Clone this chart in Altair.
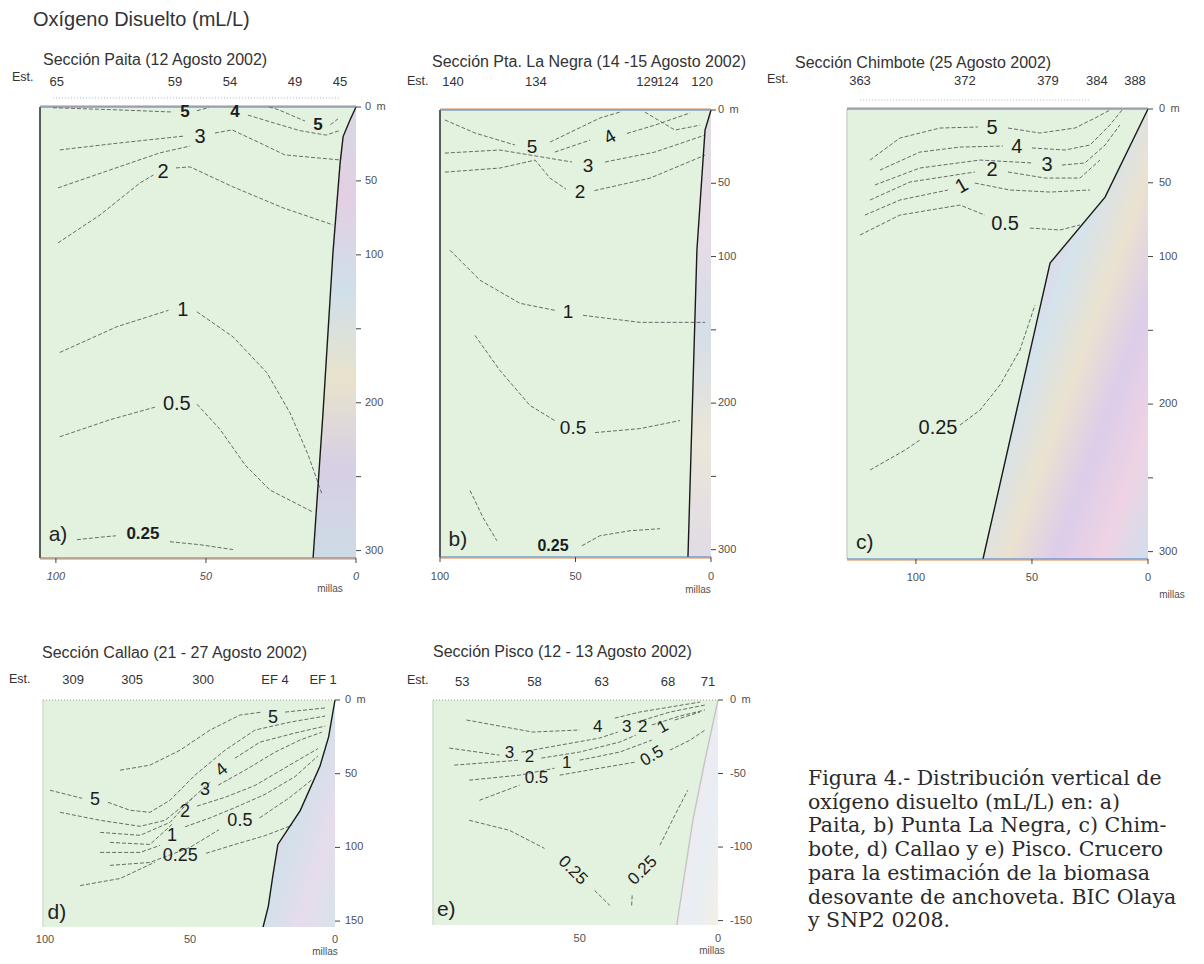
import altair as alt
import pandas as pd

# ------------------------------------------------------------------ texts
MAIN_TITLE = "Oxígeno Disuelto (mL/L)"
TITLE_A = "Sección Paita (12 Agosto 2002)"
TITLE_B = "Sección Pta. La Negra (14 -15 Agosto 2002)"
TITLE_C = "Sección Chimbote (25 Agosto  2002)"
TITLE_D = "Sección Callao (21 - 27 Agosto 2002)"
TITLE_E = "Sección Pisco  (12 - 13 Agosto 2002)"
CAPTION_LINES = [
    "Figura 4.- Distribución vertical de",
    "oxígeno disuelto (mL/L) en:  a)",
    "Paita, b) Punta La Negra, c) Chim-",
    "bote, d) Callao  y  e) Pisco. Crucero",
    "para la estimación de la biomasa",
    "desovante de anchoveta. BIC Olaya",
    "y SNP2 0208.",
]

# ------------------------------------------------------------------ stations (miles)
A_STATIONS = ["65", "59", "54", "49", "45"]
A_STATION_MI = [99.7, 60.3, 42.0, 20.3, 5.3]
B_STATIONS = ["140", "134", "129", "124", "120"]
B_STATION_MI = [95.2, 64.6, 23.6, 15.9, 3.3]
C_STATIONS = ["363", "372", "379", "384", "388"]
C_STATION_MI = [124.1, 78.9, 43.1, 22.0, 5.6]
D_STATIONS = ["309", "305", "300", "EF 4", "EF 1"]
D_STATION_MI = [90.3, 70.0, 45.5, 20.7, 4.1]
E_STATIONS = ["53", "58", "63", "68", "71"]
E_STATION_MI = [92.4, 66.3, 42.0, 18.1, 3.6]

# ------------------------------------------------------------------ axes
DEPTH_TICKS_300 = [0, 50, 100, 150, 200, 250, 300]
DEPTH_LABELS_300 = ["0\u2002m", "50", "100", "", "200", "", "300"]
DEPTH_TICKS_150 = [0, 50, 100, 150]
DEPTH_LABELS_D = ["0\u2002m", "50", "100", "150"]
DEPTH_LABELS_E = ["0\u2002m", "-50", "-100", "-150"]
MILES_ABCD = [100, 50, 0]
MILES_E = [50, 0]

# ------------------------------------------------------------------ bottom profile (miles, m)
A_SHELF = [(0, 0), (2.0, 8.8), (4.3, 20), (5.3, 38), (7.7, 99), (11.0, 207), (14.3, 305)]
B_SHELF = [(0, 0), (2.2, 13.7), (5.2, 95.7), (8.5, 305)]
C_SHELF = [(0, 0), (18.5, 59.7), (42.2, 104.4), (71.1, 305)]
D_SHELF = [(0, 0), (2.2, 25), (5.2, 45), (12.0, 75), (19.7, 98), (21.5, 120), (23.0, 140), (24.8, 154)]
E_SHELF = [(0, 0), (4.7, 40.9), (9.1, 81.8), (14.9, 153)]

# ------------------------------------------------------------------ isolines (miles, m)
A_LINES = [
    [(101.0, 0.5), (78.7, 2.0), (61.0, 3.4)],
    [(53.0, 2.5), (49.0, 0.3)],
    [(36.0, 5.5), (27.0, 11.0), (18.7, 16.0), (10.0, 19.0), (5.5, 16.0)],
    [(29.0, 0.0), (26.0, 1.7), (17.0, 9.5)],
    [(8.5, 12.0), (6.0, 8.0)],
    [(98.7, 29.0), (78.7, 24.3), (57.0, 19.6)],
    [(47.0, 17.6), (41.3, 15.5), (32.0, 24.3), (23.7, 32.4), (5.3, 35.8)],
    [(99.3, 54.7), (82.0, 42.6), (65.3, 31.0), (55.3, 26.4)],
    [(99.3, 91.9), (85.3, 73.0), (72.0, 51.4), (67.5, 46.0)],
    [(60.0, 41.2), (55.3, 40.5), (41.0, 54.0), (24.3, 68.2), (7.7, 79.7)],
    [(98.7, 166.0), (79.7, 148.6), (62.5, 137.5)],
    [(53.0, 138.5), (41.0, 155.4), (29.7, 179.7), (22.0, 206.8), (16.0, 235.0), (11.3, 262.0)],
    [(98.7, 223.0), (82.0, 211.5), (67.0, 203.0)],
    [(53.0, 201.0), (45.3, 218.0), (37.0, 242.0), (28.7, 259.0), (14.3, 274.0)],
    [(93.0, 292.6), (83.0, 290.5), (80.0, 290.0)],
    [(62.0, 294.0), (52.0, 296.0), (41.0, 299.3)],
]
A_LABELS = [("3", 52.0, 20.3, 0), ("2", 64.3, 44.0, 0), ("1", 57.7, 137.0, 0), ("0.5", 59.7, 201.0, 0)]
A_BOLD = [("5", 57.0, 3.4, 0), ("4", 40.3, 3.4, 0), ("5", 12.7, 12.5, 0), ("0.25", 71.0, 289.0, 0)]
A_LETTER = ("a)", 99.3, 289.4)

B_LINES = [
    [(98.2, 6.8), (87.1, 15.7), (72.3, 23.9)],
    [(59.4, 21.9), (50.2, 13.7), (41.0, 5.5), (33.6, 1.4)],
    [(57.6, 28.7), (44.6, 20.5)],
    [(31.0, 16.0), (20.7, 10.3), (7.7, 2.0)],
    [(24.4, 1.4), (13.3, 13.7), (4.0, 10.3)],
    [(98.2, 29.4), (77.9, 27.3), (51.3, 35.5)],
    [(39.1, 35.5), (20.7, 28.7), (2.2, 17.1)],
    [(98.2, 42.4), (77.9, 39.6), (64.9, 34.2), (59.4, 46.5), (53.5, 54.0)],
    [(43.0, 55.0), (22.5, 46.5), (2.2, 30.8)],
    [(96.3, 95.7), (85.2, 116.2), (70.5, 131.9), (57.6, 136.7)],
    [(47.2, 140.1), (26.2, 144.9), (2.2, 144.9)],
    [(87.1, 153.8), (77.9, 177.7), (66.8, 201.6), (57.6, 212.0)],
    [(42.8, 220.1), (26.2, 217.4), (11.4, 211.9)],
    [(88.9, 259.7), (84.1, 278.2), (79.0, 293.9)],
    [(47.6, 297.3), (41.0, 290.5), (29.9, 287.1), (18.8, 285.7)],
]
B_LABELS = [("5", 66.0, 25.3, 0), ("4", 37.3, 18.5, 330), ("3", 45.4, 38.3, 0), ("2", 48.3, 56.0, 0),
            ("1", 52.8, 138.0, 0), ("0.5", 50.9, 216.7, 0)]
B_BOLD = [("0.25", 58.3, 297.3, 0)]
B_LETTER = ("b)", 93.4, 293.3)

C_LINES = [
    [(119.8, 34.6), (106.9, 19.7), (89.7, 12.9), (73.3, 12.2)],
    [(60.3, 12.9), (46.6, 16.3), (31.5, 12.9), (22.8, 6.1), (16.4, 0.7)],
    [(115.5, 41.4), (98.3, 29.2), (81.0, 25.8), (62.5, 25.1)],
    [(50.0, 26.4), (35.8, 27.8), (25.0, 24.4), (16.4, 10.8), (11.2, 0.7)],
    [(117.7, 51.5), (98.3, 40.0), (72.4, 34.6), (49.6, 36.6)],
    [(37.1, 38.0), (27.2, 36.6), (18.5, 24.4), (12.1, 10.8)],
    [(119.8, 61.7), (102.6, 49.5), (74.6, 42.7)],
    [(60.3, 42.7), (44.4, 46.8), (29.3, 46.8), (20.7, 34.6)],
    [(122.0, 71.9), (106.9, 61.7), (86.2, 54.9)],
    [(74.6, 50.2), (59.5, 54.9), (42.2, 56.3), (25.0, 54.9)],
    [(124.1, 85.4), (106.9, 71.9), (81.0, 65.1), (70.3, 71.9)],
    [(50.9, 80.7), (37.9, 82.0), (29.3, 78.6)],
    [(119.8, 244.7), (104.7, 231.2), (98.3, 224.4)],
    [(81.0, 214.2), (72.4, 204.1), (63.8, 187.1), (55.2, 163.4), (48.7, 132.9)],
]
C_LABELS = [("5", 67.2, 12.9, 0), ("4", 56.5, 25.8, 0), ("3", 43.5, 38.0, 0), ("2", 67.2, 41.4, 0),
            ("1", 80.2, 52.2, 330), ("0.5", 61.6, 78.0, 0), ("0.25", 90.5, 216.3, 0)]
C_BOLD = []
C_LETTER = ("c)", 122.0, 294.2)

D_LINES = [
    [(74.1, 47.6), (63.8, 44.2), (53.4, 34.0), (43.1, 20.4), (32.8, 10.2), (25.2, 8.2)],
    [(17.2, 8.2), (3.4, 5.4)],
    [(98.3, 61.2), (87.2, 66.7)],
    [(78.3, 69.4), (70.7, 74.8), (63.8, 76.2), (56.9, 68.0), (48.3, 51.0), (37.9, 34.0), (27.6, 20.4), (15.5, 15.0), (3.4, 10.9)],
    [(94.8, 76.2), (81.0, 81.6), (67.2, 85.7), (58.6, 81.6), (50.0, 68.0), (43.1, 55.8)],
    [(34.5, 39.5), (25.9, 28.6), (13.8, 22.4), (3.4, 17.7)],
    [(81.0, 89.8), (67.2, 91.8), (56.9, 83.0), (49.0, 66.0)],
    [(40.3, 57.8), (31.0, 47.6), (20.7, 35.4), (12.1, 27.2), (4.5, 21.8)],
    [(77.6, 96.6), (63.8, 98.0), (56.0, 84.0)],
    [(47.6, 72.0), (37.9, 66.0), (27.6, 58.0), (15.5, 44.0), (5.9, 33.0)],
    [(81.0, 103.4), (67.2, 103.4), (60.3, 98.6)],
    [(51.7, 86.0), (43.1, 80.0), (34.5, 73.0), (24.1, 64.0), (13.8, 52.0), (5.9, 38.0)],
    [(77.6, 112.2), (63.8, 110.2), (50.0, 100.0), (40.0, 88.0)],
    [(26.0, 80.0), (15.5, 66.0), (7.9, 54.0)],
    [(87.9, 125.9), (74.1, 121.1), (62.1, 110.0)],
    [(44.5, 104.0), (34.5, 98.0), (24.1, 92.0), (14.8, 85.0)],
]
D_LABELS = [("5", 21.4, 12.2, 0), ("5", 82.8, 68.0, 0), ("4", 39.0, 47.6, 320), ("3", 44.8, 61.2, 0),
            ("2", 51.7, 76.0, 0), ("0.5", 32.8, 82.0, 0), ("1", 56.2, 92.0, 0), ("0.25", 53.4, 106.0, 0)]
D_BOLD = []
D_LETTER = ("d)", 95.9, 144.5)

E_LINES = [
    [(90.9, 13.6), (67.0, 21.8), (50.0, 20.4)],
    [(37.3, 12.3), (28.3, 8.2), (6.5, 1.4)],
    [(97.1, 32.7), (79.0, 37.5)],
    [(71.0, 35.4), (57.2, 30.7), (42.8, 25.9), (36.2, 21.8)],
    [(29.3, 15.0), (17.4, 8.2), (4.7, 3.4)],
    [(95.3, 44.3), (71.7, 40.9)],
    [(63.8, 39.5), (50.0, 35.4), (35.5, 28.6), (29.7, 23.9)],
    [(23.9, 17.0), (13.8, 10.9), (4.7, 6.8)],
    [(89.9, 54.5), (71.7, 51.1), (59.1, 46.4)],
    [(50.0, 40.9), (35.5, 35.4), (23.9, 27.3)],
    [(15.6, 13.6), (6.5, 8.2)],
    [(86.2, 68.2), (71.7, 57.9)],
    [(57.2, 51.1), (42.8, 46.4), (30.1, 42.3)],
    [(17.4, 34.1), (10.1, 27.3), (4.7, 20.4)],
    [(89.9, 81.8), (75.4, 88.6), (62.7, 100.9)],
    [(44.6, 129.5), (39.1, 139.7)],
    [(31.2, 139.7), (31.0, 132.0)],
    [(21.0, 98.8), (15.6, 78.4), (10.9, 61.3)],
]
E_LABELS = [("4", 43.5, 18.4, 0), ("3", 33.0, 18.4, 0), ("2", 27.2, 18.4, 0), ("1", 19.9, 18.4, 330),
            ("3", 75.4, 36.1, 0), ("2", 68.1, 38.9, 0), ("1", 54.7, 42.9, 0), ("0.5", 65.6, 53.2, 0),
            ("0.5", 23.9, 38.2, 330), ("0.25", 52.5, 115.9, 45), ("0.25", 27.2, 115.9, 315)]
E_BOLD = []
E_LETTER = ("e)", 98.2, 142.9)

# ------------------------------------------------------------------ layout (page pixels)
M = 8
W, H = 1186, 948
LAYOUT = {
    "a": dict(xmax=105.3, ymax=305, left=40, right=356, top=107, bottom=558),
    "b": dict(xmax=100.0, ymax=305, left=440, right=711, top=110, bottom=557),
    "c": dict(xmax=129.7, ymax=305, left=847, right=1148, top=109, bottom=559),
    "d": dict(xmax=100.7, ymax=154, left=43, right=335, top=700, bottom=927),
    "e": dict(xmax=103.0, ymax=153, left=433, right=718, top=700, bottom=925),
}


def grad(colors, x2=0, y2=1):
    n = len(colors) - 1
    return alt.Gradient(gradient="linear", x1=0, y1=0, x2=x2, y2=y2,
                        stops=[alt.GradientStop(offset=i / n, color=c) for i, c in enumerate(colors)])


STYLE = {
    "a": dict(title_dx=3, title_dy=-47, st_dy=-25, est_dx=-28, est_dy=-30, rl_dx=9, bl_dy=19, bl_style="italic",
              mil_dx=-26, mil_dy=31, lab=20, bold=17, left="#2a2a2a", frame=True, bticks=True,
              dots=(101, 5), shelf_line="#1a1a1a",
              grad=grad(["#d6d9e2", "#e3cfe3", "#cfdfea", "#e8e3cc", "#d7cfe4", "#cddbe6"])),
    "b": dict(title_dx=-8, title_dy=-48, st_dy=-28, est_dx=-33, est_dy=-29, rl_dx=7, bl_dy=20, bl_style="normal",
              mil_dx=-13, mil_dy=33, lab=19, bold=16, left="#2a2a2a", frame=True, bticks=True,
              dots=None, shelf_line="#1a1a1a",
              grad=grad(["#e0dce2", "#e8dbe6", "#d6dee8", "#ebe6d8", "#e0dbe6"])),
    "c": dict(title_dx=-52, title_dy=-46, st_dy=-28, est_dx=-80, est_dy=-30, rl_dx=11, bl_dy=19, bl_style="normal",
              mil_dx=24, mil_dy=36, lab=20, bold=17, left="#c9d6c6", frame=True, bticks=True,
              dots=(124, 25), shelf_line="#1a1a1a",
              grad=grad(["#e0cce6", "#d3dcec", "#eccfe2", "#d4e3ec", "#ebe2d0", "#dccdea", "#eed3e3",
                         "#d2deec"], x2=1, y2=1)),
    "d": dict(title_dx=-1, title_dy=-47, st_dy=-20, est_dx=-34, est_dy=-21, rl_dx=10, bl_dy=13, bl_style="normal",
              mil_dx=-10, mil_dy=25, lab=18, bold=16, left="#d3ddd0", frame=False, bticks=False,
              dots=None, shelf_line="#1a1a1a",
              grad=grad(["#ddd6e4", "#e8d3e4", "#d3e0ea", "#e6dcec", "#d8e3ea"], x2=1, y2=1)),
    "e": dict(title_dx=0, title_dy=-48, st_dy=-18, est_dx=-26, est_dy=-20, rl_dx=12, bl_dy=14, bl_style="normal",
              mil_dx=-6, mil_dy=26, lab=17, bold=16, left="#d3ddd0", frame=False, bticks=False,
              dots=None, shelf_line="#c4c4c4",
              grad=grad(["#eef0f3", "#f2e9ee", "#e8eef4", "#f3efe6"], x2=1, y2=1)),
}

BG = "#e3f2df"
FONT = "Liberation Sans"
INK = "#1c1c1c"
AXIS_INK = "#505050"


def scales(k):
    L = LAYOUT[k]
    xs = alt.Scale(domain=[L["xmax"], 0], range=[L["left"] - M, L["right"] - M], nice=False, zero=False)
    ys = alt.Scale(domain=[0, L["ymax"]], range=[L["top"] - M, L["bottom"] - M], nice=False, zero=False)
    return xs, ys


def ex(k, f="x"):
    return alt.X(f"{f}:Q", scale=scales(k)[0], axis=None)


def ey(k, f="y"):
    return alt.Y(f"{f}:Q", scale=scales(k)[1], axis=None)


def panel(k, title, lines, labels, bold_labels, letter, shelf, st_names, st_mi, dticks, dlabels, miles):
    L, S = LAYOUT[k], STYLE[k]
    xmax, ymax = L["xmax"], L["ymax"]
    out = []
    # plot background
    bg = pd.DataFrame([{"x": xmax, "x2": 0, "y": 0, "y2": ymax}])
    out.append(alt.Chart(bg).mark_rect(color=BG).encode(x=ex(k), x2="x2:Q", y=ey(k), y2="y2:Q"))
    # sea floor
    sh = pd.DataFrame([{"x": x, "y": y, "x0": 0, "o": i} for i, (x, y) in enumerate(shelf)])
    out.append(alt.Chart(sh).mark_area(orient="horizontal", color=S["grad"]).encode(
        x=ex(k), x2="x0:Q", y=ey(k)))
    # isolines
    rows = [{"x": x, "y": y, "id": i, "o": j} for i, seg in enumerate(lines) for j, (x, y) in enumerate(seg)]
    out.append(alt.Chart(pd.DataFrame(rows)).mark_line(color="#5a5a5a", strokeWidth=0.9, strokeDash=[4, 2]).encode(
        x=ex(k), y=ey(k), detail="id:N", order="o:Q"))
    # shelf outline
    out.append(alt.Chart(sh).mark_line(color=S["shelf_line"], strokeWidth=1.4).encode(
        x=ex(k), y=ey(k), order="o:Q"))
    # frame
    edge = pd.DataFrame([{"x": xmax, "x2": 0, "y": 0, "y2": ymax}])
    out.append(alt.Chart(edge).mark_rule(color=S["left"], strokeWidth=1.5).encode(x=ex(k), y=ey(k), y2="y2:Q"))
    if S["frame"]:
        out.append(alt.Chart(edge).mark_rule(color="#d98a45", strokeWidth=1.1, yOffset=-1).encode(
            x=ex(k), x2="x2:Q", y=ey(k)))
        out.append(alt.Chart(edge).mark_rule(color="#4d78c0", strokeWidth=1.1).encode(
            x=ex(k), x2="x2:Q", y=ey(k)))
        out.append(alt.Chart(edge).mark_rule(color="#4d78c0", strokeWidth=1.1).encode(
            x=ex(k), x2="x2:Q", y=ey(k, "y2")))
        out.append(alt.Chart(edge).mark_rule(color="#d98a45", strokeWidth=1.0, yOffset=1).encode(
            x=ex(k), x2="x2:Q", y=ey(k, "y2")))
    else:
        out.append(alt.Chart(edge).mark_rule(color="#9a9a9a", strokeWidth=1, strokeDash=[1, 2]).encode(
            x=ex(k), x2="x2:Q", y=ey(k)))
    if S["dots"]:
        dd = pd.DataFrame([{"x": S["dots"][0], "x2": S["dots"][1], "y": 0}])
        out.append(alt.Chart(dd).mark_rule(color="#a9b3c0", strokeWidth=1, strokeDash=[1, 2], yOffset=-9).encode(
            x=ex(k), x2="x2:Q", y=ey(k)))
    # depth axis (right)
    dt = pd.DataFrame({"x0": [0] * len(dticks), "y": dticks, "t": dlabels})
    out.append(alt.Chart(dt).mark_rule(color="#444", strokeWidth=1, x2Offset=5).encode(
        x=ex(k, "x0"), x2="x0:Q", y=ey(k)))
    out.append(alt.Chart(dt[dt.t != ""]).mark_text(font=FONT, fontSize=11, color=AXIS_INK, align="left",
                                                   baseline="middle", dx=S["rl_dx"]).encode(
        x=ex(k, "x0"), y=ey(k), text="t:N"))
    # miles axis (bottom)
    mt = pd.DataFrame({"x": miles, "yb": [ymax] * len(miles), "t": [str(m) for m in miles]})
    if S["bticks"]:
        out.append(alt.Chart(mt).mark_rule(color="#444", strokeWidth=1, y2Offset=5).encode(
            x=ex(k), y=ey(k, "yb"), y2="yb:Q"))
    out.append(alt.Chart(mt).mark_text(font=FONT, fontSize=11, fontStyle=S["bl_style"], color=AXIS_INK,
                                       baseline="middle", dy=S["bl_dy"]).encode(
        x=ex(k), y=ey(k, "yb"), text="t:N"))
    mil = pd.DataFrame([{"x": 0, "y": ymax, "t": "millas"}])
    out.append(alt.Chart(mil).mark_text(font=FONT, fontSize=10, color=AXIS_INK, baseline="middle",
                                        dx=S["mil_dx"], dy=S["mil_dy"]).encode(x=ex(k), y=ey(k), text="t:N"))
    # stations
    st = pd.DataFrame({"x": st_mi, "y": [0] * len(st_mi), "t": st_names})
    out.append(alt.Chart(st).mark_text(font=FONT, fontSize=13, color="#333", baseline="middle",
                                       dy=S["st_dy"]).encode(x=ex(k), y=ey(k), text="t:N"))
    est = pd.DataFrame([{"x": xmax, "y": 0, "t": "Est."}])
    out.append(alt.Chart(est).mark_text(font=FONT, fontSize=12.5, color="#333", align="left", baseline="middle",
                                        dx=S["est_dx"], dy=S["est_dy"]).encode(x=ex(k), y=ey(k), text="t:N"))
    # title
    tt = pd.DataFrame([{"x": xmax, "y": 0, "t": title}])
    out.append(alt.Chart(tt).mark_text(font=FONT, fontSize=16, color="#333", align="left", baseline="middle",
                                       dx=S["title_dx"], dy=S["title_dy"]).encode(x=ex(k), y=ey(k), text="t:N"))
    # isoline labels
    lab = pd.DataFrame([{"t": t, "x": x, "y": y, "a": a} for (t, x, y, a) in labels])
    out.append(alt.Chart(lab).mark_text(font=FONT, fontSize=S["lab"], color=INK, baseline="middle").encode(
        x=ex(k), y=ey(k), text="t:N", angle=alt.Angle("a:Q", scale=None)))
    if bold_labels:
        bl = pd.DataFrame([{"t": t, "x": x, "y": y, "a": a} for (t, x, y, a) in bold_labels])
        out.append(alt.Chart(bl).mark_text(font=FONT, fontSize=S["bold"], fontWeight="bold", color=INK,
                                           baseline="middle").encode(
            x=ex(k), y=ey(k), text="t:N", angle=alt.Angle("a:Q", scale=None)))
    lt = pd.DataFrame([{"t": letter[0], "x": letter[1], "y": letter[2]}])
    out.append(alt.Chart(lt).mark_text(font=FONT, fontSize=21, color="#222", baseline="middle").encode(
        x=ex(k), y=ey(k), text="t:N"))
    return out


layers = []
layers += panel("a", TITLE_A, A_LINES, A_LABELS, A_BOLD, A_LETTER, A_SHELF, A_STATIONS, A_STATION_MI,
                DEPTH_TICKS_300, DEPTH_LABELS_300, MILES_ABCD)
layers += panel("b", TITLE_B, B_LINES, B_LABELS, B_BOLD, B_LETTER, B_SHELF, B_STATIONS, B_STATION_MI,
                DEPTH_TICKS_300, DEPTH_LABELS_300, MILES_ABCD)
layers += panel("c", TITLE_C, C_LINES, C_LABELS, C_BOLD, C_LETTER, C_SHELF, C_STATIONS, C_STATION_MI,
                DEPTH_TICKS_300, DEPTH_LABELS_300, MILES_ABCD)
layers += panel("d", TITLE_D, D_LINES, D_LABELS, D_BOLD, D_LETTER, D_SHELF, D_STATIONS, D_STATION_MI,
                DEPTH_TICKS_150, DEPTH_LABELS_D, MILES_ABCD)
layers += panel("e", TITLE_E, E_LINES, E_LABELS, E_BOLD, E_LETTER, E_SHELF, E_STATIONS, E_STATION_MI,
                DEPTH_TICKS_150, DEPTH_LABELS_E, MILES_E)

# main title, anchored to panel a
mt_df = pd.DataFrame([{"x": LAYOUT["a"]["xmax"], "y": 0, "t": MAIN_TITLE}])
layers.append(alt.Chart(mt_df).mark_text(font=FONT, fontSize=20, color="#333", align="left", baseline="middle",
                                         dx=-7, dy=-87).encode(x=ex("a"), y=ey("a"), text="t:N"))

# caption, placed in panel e coordinates
CAP_LEFT, CAP_TOP, CAP_STEP = 808, 779, 23.7
Le = LAYOUT["e"]
cap_x = (Le["right"] - CAP_LEFT) * Le["xmax"] / (Le["right"] - Le["left"])
cap_rows = [{"x": cap_x, "y": (CAP_TOP + CAP_STEP * i - Le["top"]) * Le["ymax"] / (Le["bottom"] - Le["top"]),
             "t": line} for i, line in enumerate(CAPTION_LINES)]
layers.append(alt.Chart(pd.DataFrame(cap_rows)).mark_text(font="DejaVu Serif", fontSize=20.5, color="#2a2a2a",
                                                          align="left", baseline="middle").encode(
    x=ex("e"), y=ey("e"), text="t:N"))

chart = alt.layer(*layers).resolve_scale(x="independent", y="independent").properties(
    width=W, height=H, autosize=alt.AutoSizeParams(type="none"), padding=0
).configure_view(stroke=None)

chart.save("out.html", embed_options={"renderer": "svg", "actions": False})
